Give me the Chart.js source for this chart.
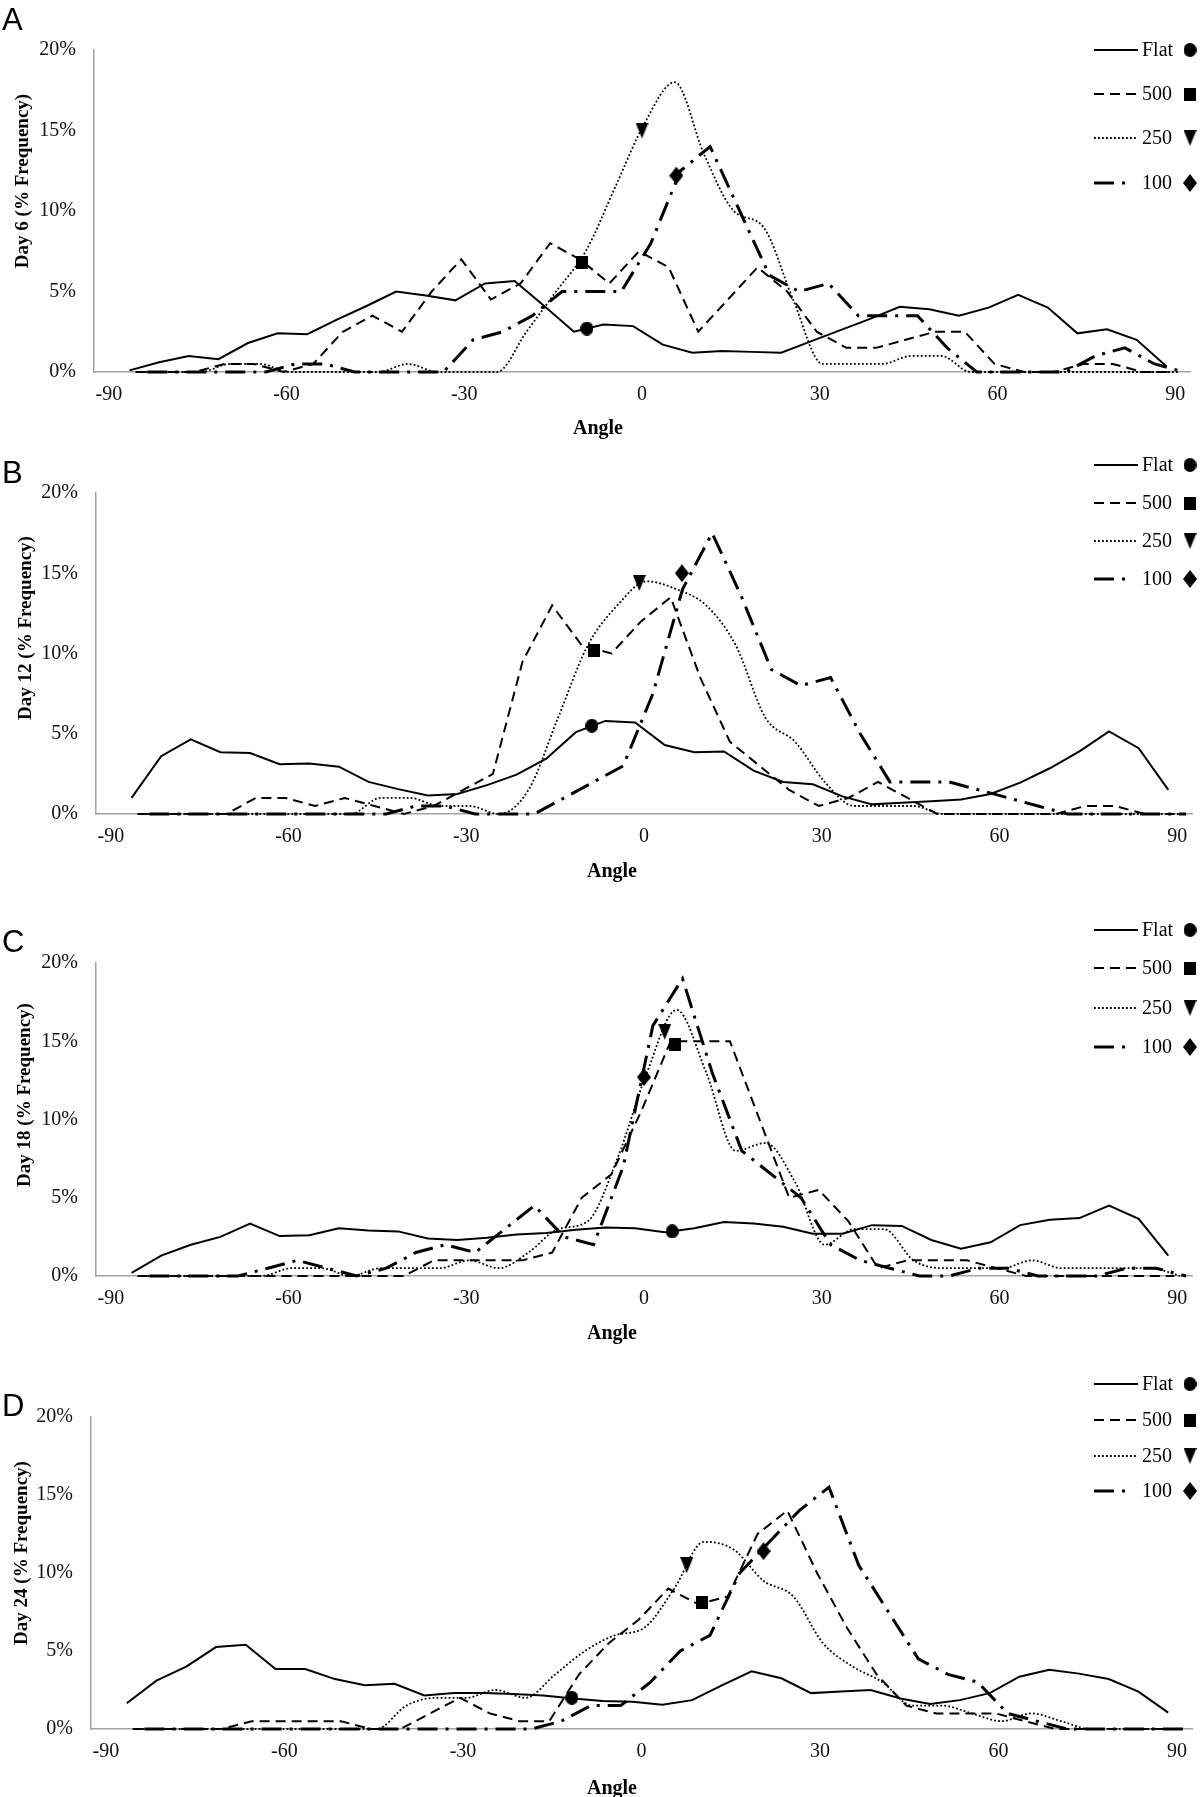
<!DOCTYPE html>
<html>
<head>
<meta charset="utf-8">
<script src="https://cdn.jsdelivr.net/npm/chart.js@4.4.1/dist/chart.umd.min.js"></script>
<style>
  html, body { margin: 0; padding: 0; background: #fff; }
  #page { position: relative; width: 1200px; height: 1797px; overflow: hidden; background: #fff; }
  #page canvas { position: absolute; left: 0; }
  .letter { position: absolute; left: 2px; font-family: "Liberation Sans", Arial, sans-serif; font-size: 31px; line-height: 1; transform: translateY(-50%); }
  .ytitle { position: absolute; font-family: "Liberation Serif", "Times New Roman", serif; font-weight: bold; font-size: 19px; white-space: nowrap; transform: translate(-50%, -50%) rotate(-90deg); }
  .xtitle { position: absolute; font-family: "Liberation Serif", "Times New Roman", serif; font-weight: bold; font-size: 20px; white-space: nowrap; transform: translate(-50%, -50%); }
</style>
</head>
<body>
<div id="page"></div>
<script>
// bin centres (deg); each series is drawn shifted a little, as in the figure
const binAngles = [-85, -80, -75, -70, -65, -60, -55, -50, -45, -40, -35, -30, -25, -20, -15, -10, -5, 0,
                   5, 10, 15, 20, 25, 30, 35, 40, 45, 50, 55, 60, 65, 70, 75, 80, 85, 90];
const seriesNames = ['Flat', '500', '250', '100'];
const seriesShift = [-1.5, -0.5, 0.5, 1.5];
const xTicks = [-90, -60, -30, 0, 30, 60, 90];
const yTicks = [0, 5, 10, 15, 20];

// Day 6
const day6Flat = [0.1, 0.6, 1.0, 0.8, 1.8, 2.4, 2.35, 3.25, 4.1, 5.0, 4.75, 4.45, 5.5, 5.65, 4.1, 2.5, 2.95, 2.85,
                  1.7, 1.2, 1.3, 1.25, 1.2, 1.9, 2.6, 3.3, 4.05, 3.9, 3.5, 4.0, 4.8, 4.0, 2.4, 2.65, 2.0, 0.35];
const day6P500 = [0, 0, 0, 0.5, 0.5, 0, 0.5, 2.5, 3.5, 2.5, 5.0, 7.0, 4.5, 5.5, 8.0, 7.0, 5.5, 7.5,
                  6.5, 2.5, 4.5, 6.5, 5.0, 2.5, 1.5, 1.5, 2.0, 2.5, 2.5, 0.5, 0, 0, 0.5, 0.5, 0, 0];
const day6P250 = [0, 0, 0, 0.5, 0.5, 0, 0, 0, 0, 0.5, 0, 0, 0, 2.5, 5.0, 7.5, 11.5, 15.5,
                  18.0, 13.5, 10.0, 9.0, 4.5, 0.5, 0.5, 0.5, 1.0, 1.0, 0, 0, 0, 0, 0, 0, 0, 0];
const day6P100 = [0, 0, 0, 0, 0, 0.5, 0.5, 0, 0, 0, 0, 2.0, 2.5, 3.5, 5.0, 5.0, 5.0, 8.0,
                  12.5, 14.0, 10.0, 6.0, 5.0, 5.5, 3.5, 3.5, 3.5, 1.5, 0, 0, 0, 0, 1.0, 1.5, 0.5, 0];
const day6Means = [[-9.3, 2.7], [-10.2, 6.8], [0.0, 15.0], [5.8, 12.2]];

// Day 12
const day12Flat = [1.0, 3.6, 4.65, 3.85, 3.8, 3.1, 3.15, 2.95, 2.0, 1.55, 1.15, 1.25, 1.8, 2.45, 3.45, 5.1, 5.8, 5.7,
                   4.3, 3.85, 3.9, 2.7, 2.0, 1.85, 1.1, 0.6, 0.7, 0.8, 0.9, 1.25, 1.95, 2.85, 3.9, 5.15, 4.1, 1.5];
const day12P500 = [0, 0, 0, 0, 1.0, 1.0, 0.5, 1.0, 0.5, 0, 0.5, 1.5, 2.5, 9.5, 13.0, 10.5, 10.0, 12.0,
                   13.5, 8.5, 4.5, 3.0, 1.5, 0.5, 1.0, 2.0, 1.0, 0, 0, 0, 0, 0, 0.5, 0.5, 0, 0];
const day12P250 = [0, 0, 0, 0, 0, 0, 0, 0, 1.0, 1.0, 0.5, 0.5, 0, 1.5, 6.0, 10.5, 13.0, 14.5,
                   14.0, 13.0, 10.5, 6.0, 4.5, 2.0, 0.5, 0.5, 0.5, 0, 0, 0, 0, 0, 0, 0, 0, 0];
const day12P100 = [0, 0, 0, 0, 0, 0, 0, 0, 0, 0.5, 0.5, 0, 0, 0, 1.0, 2.0, 3.0, 7.5,
                   14.0, 17.5, 13.5, 9.0, 8.0, 8.5, 5.0, 2.0, 2.0, 2.0, 1.5, 1.0, 0.5, 0, 0, 0, 0, 0];
const day12Means = [[-8.8, 5.5], [-8.5, 10.2], [-0.8, 14.4], [6.4, 15.0]];

// Day 18
const day18Flat = [0.2, 1.3, 2.0, 2.5, 3.35, 2.55, 2.6, 3.05, 2.9, 2.85, 2.4, 2.3, 2.45, 2.65, 2.75, 2.95, 3.1, 3.05,
                   2.8, 3.05, 3.45, 3.35, 3.15, 2.7, 2.7, 3.25, 3.2, 2.3, 1.75, 2.15, 3.25, 3.6, 3.7, 4.5, 3.65, 1.3];
const day18P500 = [0, 0, 0, 0, 0, 0, 0, 0, 0, 0, 1.0, 1.0, 1.0, 1.0, 1.5, 5.0, 6.5, 10.5,
                   15.0, 15.0, 15.0, 10.0, 5.0, 5.5, 3.5, 0.5, 1.0, 1.0, 1.0, 0.5, 0, 0, 0, 0, 0, 0];
const day18P250 = [0, 0, 0, 0, 0, 0.5, 0.5, 0, 0.5, 0.5, 0.5, 1.0, 0.5, 1.5, 3.0, 3.5, 7.5, 13.0,
                   17.0, 13.0, 8.0, 8.5, 6.0, 2.0, 3.0, 3.0, 1.0, 0.5, 0.5, 0.5, 1.0, 0.5, 0.5, 0.5, 0.5, 0];
const day18P100 = [0, 0, 0, 0, 0.5, 1.0, 0.5, 0, 0.5, 1.5, 2.0, 1.5, 3.0, 4.5, 2.5, 2.0, 7.0, 16.0,
                   19.0, 13.0, 8.0, 6.5, 5.0, 2.0, 1.0, 0.5, 0, 0, 0.5, 0.5, 0, 0, 0, 0.5, 0.5, 0];
const day18Means = [[4.75, 2.85], [5.2, 14.8], [3.5, 15.6], [0.0, 12.7]];

// Day 24
const day24Flat = [1.65, 3.1, 4.0, 5.25, 5.4, 3.85, 3.85, 3.2, 2.8, 2.9, 2.15, 2.3, 2.3, 2.25, 2.15, 1.95, 1.8, 1.75,
                   1.55, 1.85, 2.8, 3.7, 3.25, 2.3, 2.4, 2.5, 1.95, 1.6, 1.85, 2.3, 3.35, 3.8, 3.55, 3.2, 2.4, 1.05];
const day24P500 = [0, 0, 0, 0, 0.5, 0.5, 0.5, 0.5, 0, 0, 1.0, 2.0, 1.0, 0.5, 0.5, 3.5, 5.5, 7.0,
                   9.0, 8.0, 8.5, 12.5, 14.0, 10.0, 6.5, 3.5, 1.5, 1.0, 1.0, 1.0, 0.5, 0, 0, 0, 0, 0];
const day24P250 = [0, 0, 0, 0, 0, 0, 0, 0, 0, 1.5, 2.0, 2.0, 2.5, 2.0, 3.5, 5.0, 6.0, 6.5,
                   9.0, 12.0, 11.5, 9.5, 8.5, 5.5, 4.0, 3.0, 1.5, 1.5, 1.0, 0.5, 1.0, 0.5, 0, 0, 0, 0];
const day24P100 = [0, 0, 0, 0, 0, 0, 0, 0, 0, 0, 0, 0, 0, 0, 0.5, 1.5, 1.5, 3.0,
                   5.0, 6.0, 10.0, 12.0, 14.0, 15.5, 10.5, 7.5, 4.5, 3.5, 3.0, 1.0, 0.5, 0, 0, 0, 0, 0];
const day24Means = [[-11.7, 2.0], [10.1, 8.1], [7.6, 10.5], [20.5, 11.4]];

const panels = [
  { letter: 'A', ytitle: 'Day 6 (% Frequency)', series: [day6Flat, day6P500, day6P250, day6P100], means: day6Means,
    canvasTop: 0, canvasH: 450, left: 94, right: 1190, top: 50, bottom: 372,
    letterY: 19, ytitleX: 22, ytitleY: 181, xtitleX: 598, xtitleY: 427, legendRows: [50, 94, 138, 183] },
  { letter: 'B', ytitle: 'Day 12 (% Frequency)', series: [day12Flat, day12P500, day12P250, day12P100], means: day12Means,
    canvasTop: 450, canvasH: 450, left: 96, right: 1194, top: 493, bottom: 814,
    letterY: 472, ytitleX: 25, ytitleY: 628, xtitleX: 612, xtitleY: 870, legendRows: [465, 503, 541, 579] },
  { letter: 'C', ytitle: 'Day 18 (% Frequency)', series: [day18Flat, day18P500, day18P250, day18P100], means: day18Means,
    canvasTop: 900, canvasH: 450, left: 96, right: 1194, top: 963, bottom: 1276,
    letterY: 941, ytitleX: 24, ytitleY: 1095, xtitleX: 612, xtitleY: 1332, legendRows: [930, 968, 1008, 1047] },
  { letter: 'D', ytitle: 'Day 24 (% Frequency)', series: [day24Flat, day24P500, day24P250, day24P100], means: day24Means,
    canvasTop: 1350, canvasH: 447, left: 91, right: 1194, top: 1417, bottom: 1729,
    letterY: 1405, ytitleX: 21, ytitleY: 1553, xtitleX: 612, xtitleY: 1787, legendRows: [1384, 1420, 1456, 1491] }
];

const lineStyles = [
  { width: 2, dash: [], sample: 44 },
  { width: 2, dash: [10, 6], sample: 44 },
  { width: 1.8, dash: [1.8, 2.2], sample: 44 },
  { width: 3, dash: [20, 8, 3, 8], sample: 32 }
];
const markerShapes = [
  { shape: 'circle', w: 13, h: 14 },
  { shape: 'square', w: 12, h: 13 },
  { shape: 'triangle', w: 13, h: 16 },
  { shape: 'diamond', w: 14, h: 18 }
];
const serif = '"Liberation Serif", "Times New Roman", serif';

function markerCanvas(m) {
  const c = document.createElement('canvas');
  c.width = m.w; c.height = m.h;
  const g = c.getContext('2d');
  g.fillStyle = '#000';
  g.beginPath();
  if (m.shape === 'circle') {
    g.ellipse(m.w / 2, m.h / 2, m.w / 2, m.h / 2, 0, 0, Math.PI * 2);
  } else if (m.shape === 'square') {
    g.rect(0, 0, m.w, m.h);
  } else if (m.shape === 'triangle') {
    g.moveTo(0, 0); g.lineTo(m.w, 0); g.lineTo(m.w / 2, m.h); g.closePath();
  } else {
    g.moveTo(m.w / 2, 0); g.lineTo(m.w, m.h / 2); g.lineTo(m.w / 2, m.h); g.lineTo(0, m.h / 2); g.closePath();
  }
  g.fill();
  return c;
}
const markerImgs = markerShapes.map(markerCanvas);

// legend: line sample, label, then the marker symbol
const sideLegend = {
  id: 'sideLegend',
  afterDraw(chart, args, opts) {
    const ctx = chart.ctx;
    ctx.save();
    ctx.font = '20px ' + serif;
    ctx.textBaseline = 'middle';
    ctx.textAlign = 'left';
    seriesNames.forEach((name, s) => {
      const y = opts.rows[s];
      ctx.beginPath();
      ctx.strokeStyle = '#000';
      ctx.lineWidth = lineStyles[s].width;
      ctx.setLineDash(lineStyles[s].dash);
      ctx.moveTo(1094, y);
      ctx.lineTo(1094 + lineStyles[s].sample, y);
      ctx.stroke();
      ctx.setLineDash([]);
      ctx.fillStyle = '#000';
      ctx.fillText(name, 1142, y + 1);
      const img = markerImgs[s];
      ctx.drawImage(img, 1190 - img.width / 2, y - img.height / 2);
    });
    ctx.restore();
  }
};

const page = document.getElementById('page');

function addText(cls, text, x, y) {
  const d = document.createElement('div');
  d.className = cls;
  d.textContent = text;
  if (x !== null) d.style.left = x + 'px';
  d.style.top = y + 'px';
  page.appendChild(d);
}

panels.forEach(p => {
  const cv = document.createElement('canvas');
  cv.width = 1200; cv.height = p.canvasH;
  cv.style.top = p.canvasTop + 'px';
  cv.style.width = '1200px'; cv.style.height = p.canvasH + 'px';
  page.appendChild(cv);

  const datasets = [];
  p.series.forEach((vals, s) => {
    datasets.push({
      label: seriesNames[s],
      data: vals.map((v, i) => ({ x: binAngles[i] + seriesShift[s], y: v })),
      borderColor: '#000',
      borderWidth: lineStyles[s].width,
      borderDash: lineStyles[s].dash,
      pointRadius: 0,
      fill: false,
      clip: false,
      cubicInterpolationMode: s === 2 ? 'monotone' : 'default',
      tension: 0,
      order: 1
    });
  });
  p.means.forEach((m, s) => {
    datasets.push({
      type: 'scatter',
      label: seriesNames[s] + ' mean',
      data: [{ x: m[0], y: m[1] }],
      pointStyle: markerImgs[s],
      pointRadius: 7,
      clip: false,
      order: 0
    });
  });

  new Chart(cv, {
    type: 'line',
    data: { datasets },
    options: {
      responsive: false,
      animation: false,
      events: [],
      layout: { padding: { left: 0, right: 1200 - p.right, top: p.top - p.canvasTop, bottom: p.canvasTop + p.canvasH - p.bottom - 40 } },
      plugins: {
        legend: { display: false },
        tooltip: { enabled: false },
        sideLegend: { rows: p.legendRows.map(r => r - p.canvasTop) }
      },
      scales: {
        x: {
          type: 'linear', min: -92.5, max: 92.5,
          afterBuildTicks: ax => { ax.ticks = xTicks.map(v => ({ value: v })); },
          afterFit: ax => { ax.height = 40; },
          grid: { display: false, drawTicks: false },
          border: { display: true, color: '#a3a3a3', width: 1.5 },
          ticks: { padding: 11, maxRotation: 0, autoSkip: false, color: '#111', font: { family: serif, size: 20 } }
        },
        y: {
          min: 0, max: 20,
          afterBuildTicks: ax => { ax.ticks = yTicks.map(v => ({ value: v })); },
          afterFit: ax => { ax.width = p.left; },
          grid: { display: false, drawTicks: false },
          border: { display: true, color: '#a3a3a3', width: 1.5 },
          ticks: { padding: 18, color: '#111', font: { family: serif, size: 20 }, callback: v => v + '%' }
        }
      }
    },
    plugins: [sideLegend]
  });

  addText('letter', p.letter, null, p.letterY);
  addText('ytitle', p.ytitle, p.ytitleX, p.ytitleY);
  addText('xtitle', 'Angle', p.xtitleX, p.xtitleY);
});
</script>
</body>
</html>
